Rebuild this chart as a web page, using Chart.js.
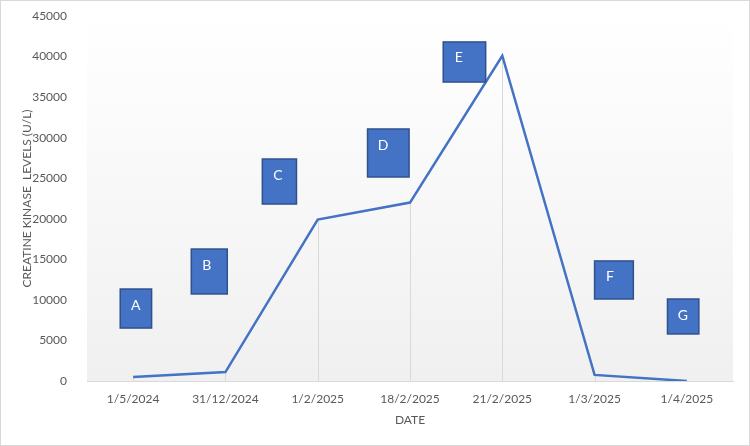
<!DOCTYPE html>
<html>
<head>
<meta charset="utf-8">
<script src="https://cdn.jsdelivr.net/npm/chart.js@4.4.1/dist/chart.umd.min.js"></script>
<style>
  body { margin: 0; background: #fff; }
  #wrap { width: 750px; height: 446px; position: relative; }
</style>
</head>
<body>
<div id="wrap"><canvas id="ck" width="750" height="446"></canvas></div>
<script>
// data
const dates = ['1/5/2024', '31/12/2024', '1/2/2025', '18/2/2025', '21/2/2025', '1/3/2025', '1/4/2025'];
const ckLevels = [500, 1100, 19900, 22000, 40100, 750, 0];

// text boxes (category index range, value range)
const boxLabels = ['A', 'B', 'C', 'D', 'E', 'F', 'G'];
const boxX0 = [-0.14, 0.63, 1.40, 2.54, 3.36, 5.00, 5.79];
const boxX1 = [0.20, 1.02, 1.77, 2.99, 3.82, 5.42, 6.13];
const boxTop = [11340, 16270, 27370, 31070, 41800, 14800, 10110];
const boxBottom = [6530, 10730, 21820, 25150, 36860, 10110, 5800];

const fontName = 'Lato, "Open Sans", sans-serif';

// gradient behind the plot area + white page
const plotBg = {
    id: 'plotBg',
    beforeDraw(chart) {
        const { ctx, chartArea: a } = chart;
        ctx.save();
        ctx.fillStyle = '#fff';
        ctx.fillRect(0, 0, chart.width, chart.height);
        const g = ctx.createLinearGradient(0, a.top, 0, a.bottom);
        g.addColorStop(0, '#ffffff');
        g.addColorStop(1, '#f0f0f0');
        ctx.fillStyle = g;
        ctx.fillRect(a.left, a.top, a.right - a.left, a.bottom - a.top);
        ctx.restore();
    }
};

// vertical drop lines from each point to the axis
const dropLines = {
    id: 'dropLines',
    beforeDatasetsDraw(chart) {
        const { ctx, chartArea: a } = chart;
        const pts = chart.getDatasetMeta(0).data;
        ctx.save();
        ctx.strokeStyle = '#d9d9d9';
        ctx.lineWidth = 1;
        pts.forEach(p => {
            const x = Math.round(p.x) + 0.5;
            ctx.beginPath();
            ctx.moveTo(x, p.y);
            ctx.lineTo(x, a.bottom);
            ctx.stroke();
        });
        ctx.restore();
    }
};

// the lettered blue boxes
const letterBoxes = {
    id: 'letterBoxes',
    afterDatasetsDraw(chart) {
        const { ctx, scales: { x, y } } = chart;
        ctx.save();
        boxLabels.forEach((t, i) => {
            const l = x.getPixelForValue(boxX0[i]);
            const r = x.getPixelForValue(boxX1[i]);
            const tp = y.getPixelForValue(boxTop[i]);
            const b = y.getPixelForValue(boxBottom[i]);
            ctx.fillStyle = '#4472c4';
            ctx.fillRect(l, tp, r - l, b - tp);
            ctx.strokeStyle = '#2f528f';
            ctx.lineWidth = 1.5;
            ctx.strokeRect(l, tp, r - l, b - tp);
            ctx.fillStyle = '#fff';
            ctx.font = '14px ' + fontName;
            ctx.textAlign = 'center';
            ctx.textBaseline = 'middle';
            ctx.fillText(t, l + 15.5, tp + 16);
        });
        ctx.restore();
    },
    afterDraw(chart) {
        const ctx = chart.ctx;
        ctx.save();
        ctx.strokeStyle = '#d9d9d9';
        ctx.lineWidth = 1;
        ctx.strokeRect(0.5, 0.5, chart.width - 1, chart.height - 1);
        ctx.restore();
    }
};

new Chart(document.getElementById('ck'), {
    type: 'line',
    data: {
        labels: dates,
        datasets: [{
            data: ckLevels,
            borderColor: '#4472c4',
            borderWidth: 2.5,
            pointRadius: 0,
            tension: 0,
            fill: false
        }]
    },
    options: {
        responsive: false,
        animation: false,
        layout: { padding: { top: 16, right: 17, left: 0, bottom: 0 } },
        plugins: { legend: { display: false }, tooltip: { enabled: false } },
        scales: {
            x: {
                offset: true,
                grid: { display: false },
                border: { display: true, color: '#d9d9d9', width: 1 },
                ticks: { color: '#595959', font: { family: fontName, size: 12 }, padding: 3, maxRotation: 0 },
                title: { display: true, text: 'DATE', color: '#595959', font: { family: fontName, size: 12 }, padding: { top: 4, bottom: 19 } },
                afterFit(s) { s.height = 65; }
            },
            y: {
                min: 0,
                max: 45000,
                grid: { display: false },
                border: { display: false },
                ticks: { stepSize: 5000, color: '#595959', font: { family: fontName, size: 12 }, padding: 12, callback: v => String(v) },
                title: { display: true, text: 'CREATINE KINASE  LEVELS (U/L)', color: '#595959', font: { family: fontName, size: 12 }, padding: { top: 20, bottom: 4 } },
                afterFit(s) { s.width = 87; s.paddingTop = 0; s.paddingBottom = 0; }
            }
        }
    },
    plugins: [plotBg, dropLines, letterBoxes]
});
</script>
</body>
</html>
